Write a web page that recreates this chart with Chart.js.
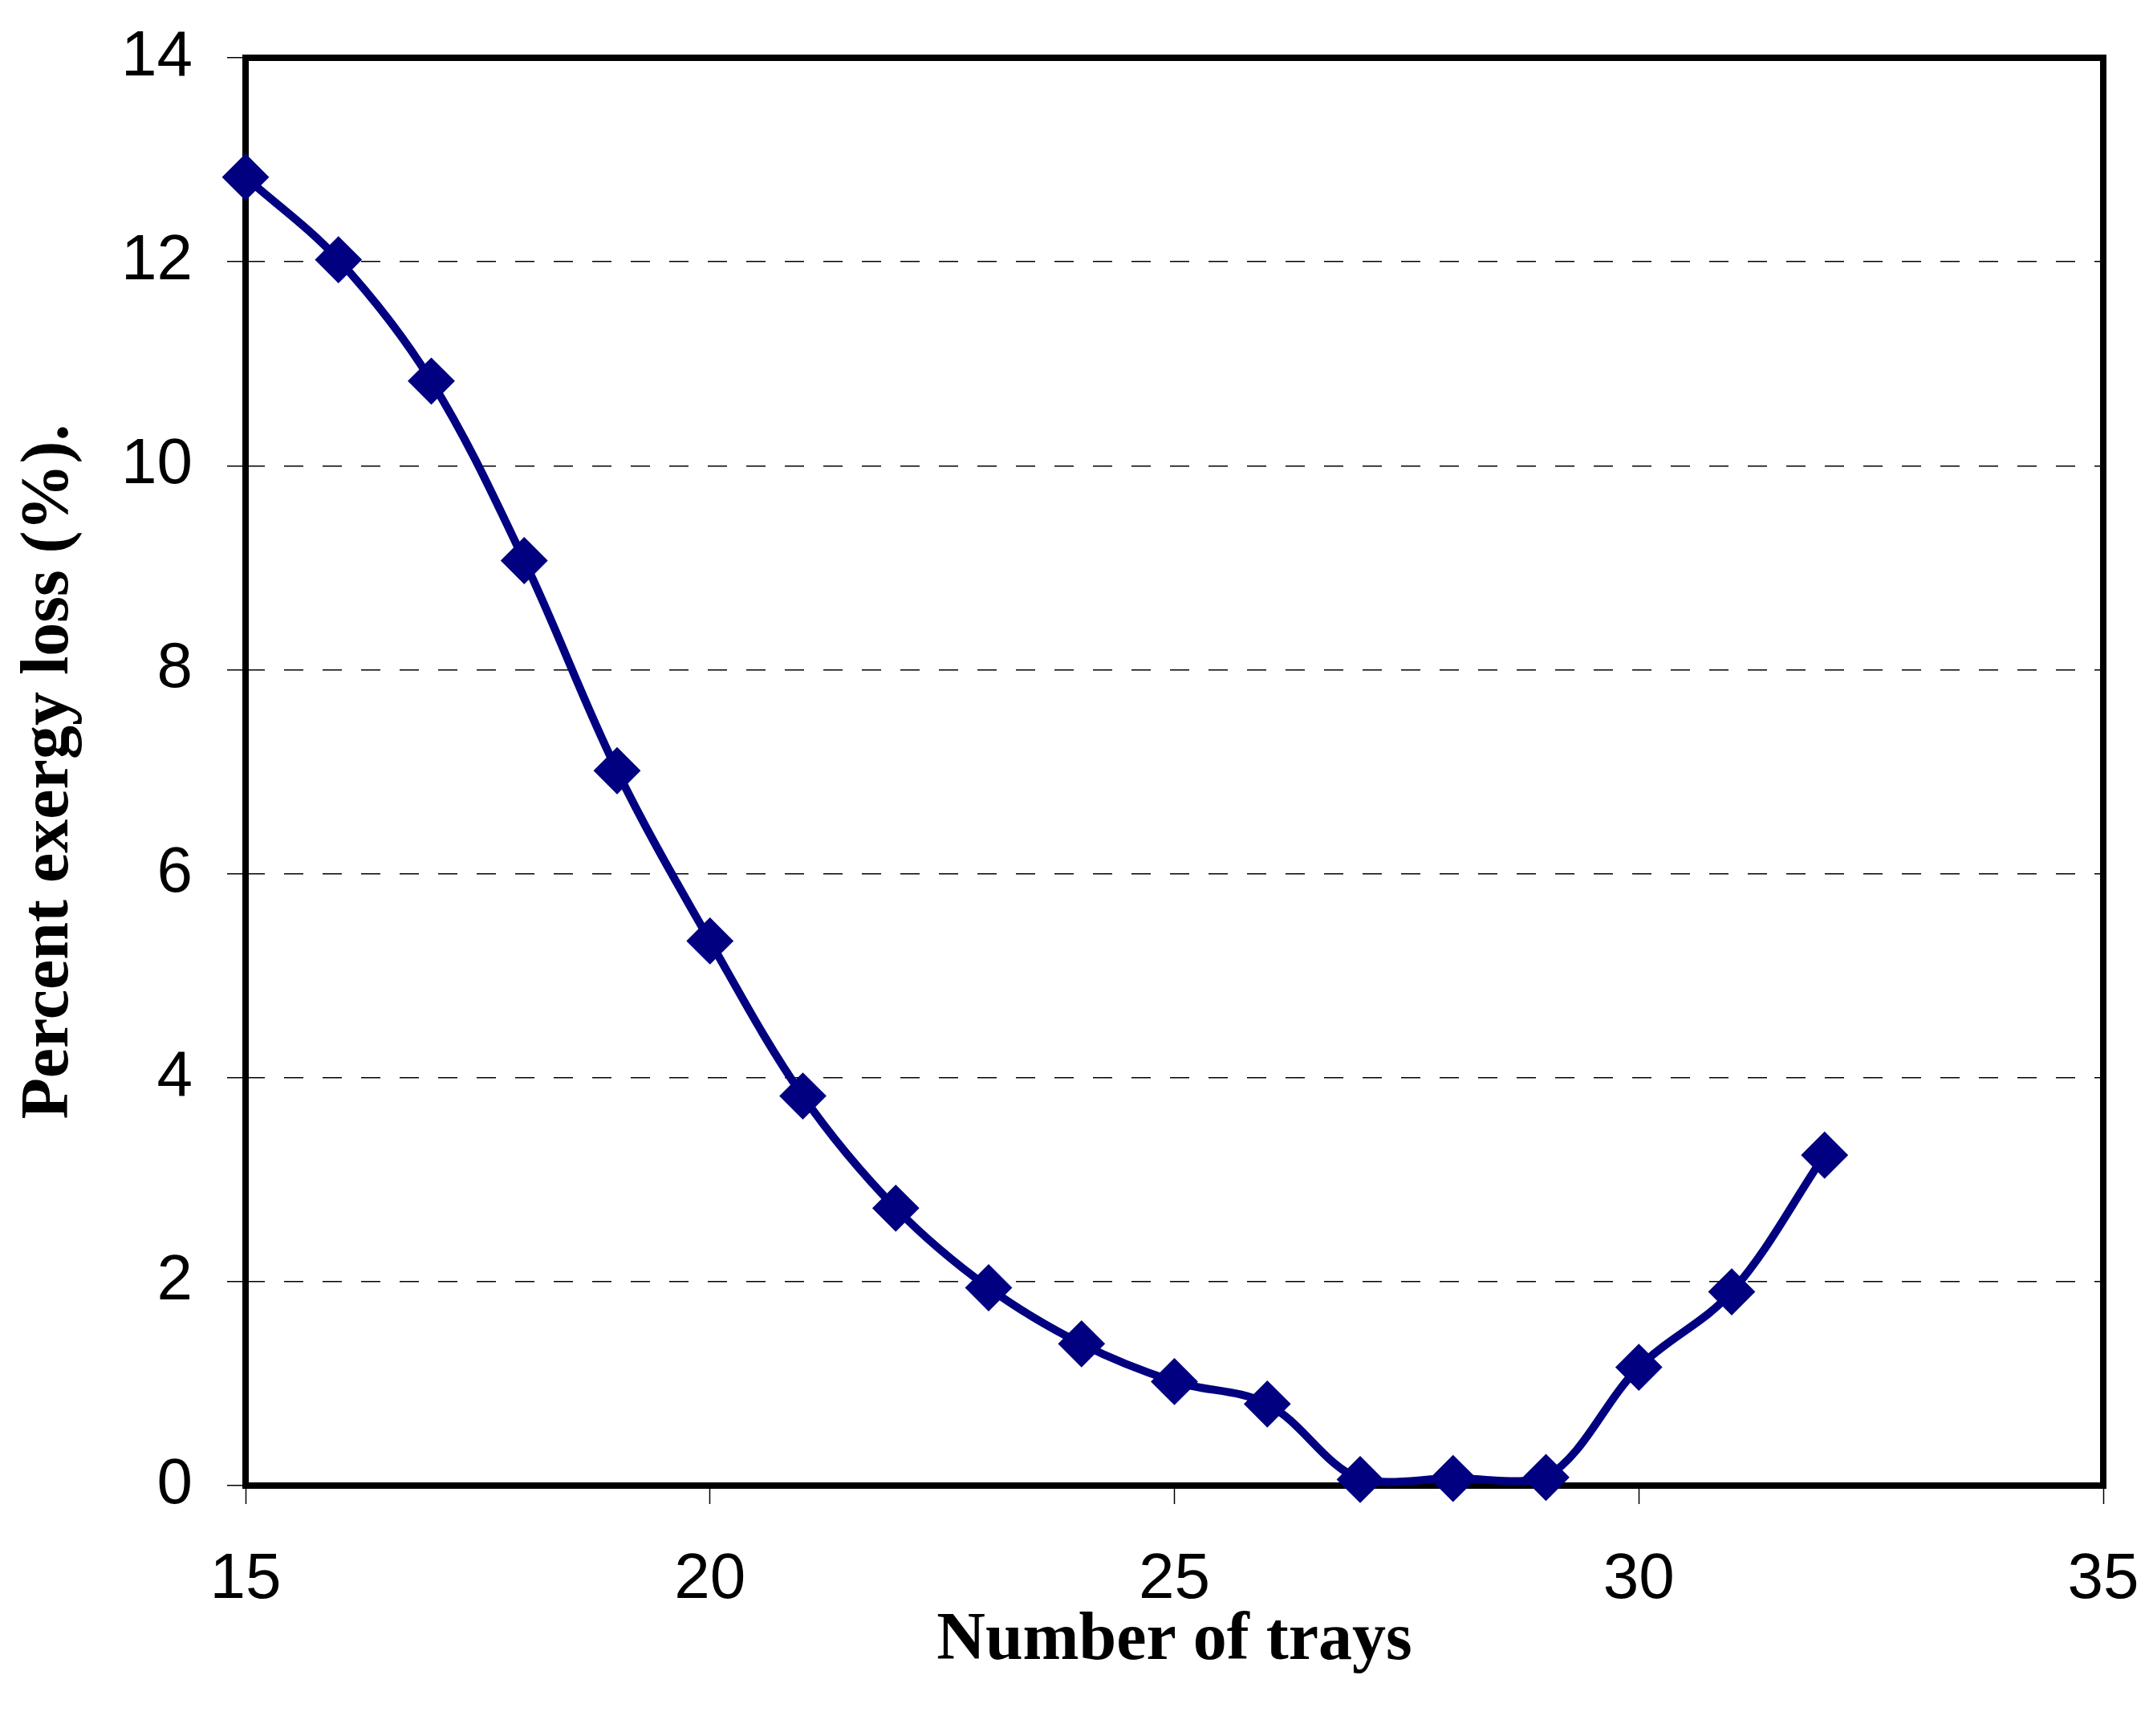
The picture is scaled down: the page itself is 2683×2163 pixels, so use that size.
<!DOCTYPE html>
<html>
<head>
<meta charset="utf-8">
<script src="https://cdn.jsdelivr.net/npm/chart.js@4/dist/chart.umd.min.js"></script>
<style>
  html, body { margin: 0; padding: 0; background: #fff; }
  #wrap { width: 2683px; height: 2163px; }
</style>
</head>
<body>
<div id="wrap"><canvas id="chart"></canvas></div>
<script>
// number of trays vs percent exergy loss
var trays = [15, 16, 17, 18, 19, 20, 21, 22, 23, 24, 25, 26, 27, 28, 29, 30, 31, 32];
var exergyLoss = [12.83, 12.02, 10.83, 9.07, 7.01, 5.34, 3.82, 2.72, 1.94, 1.39, 1.02, 0.80, 0.06, 0.07, 0.08, 1.16, 1.90, 3.24];
var xTicks = [15, 20, 25, 30, 35];
var yTicks = [0, 2, 4, 6, 8, 10, 12, 14];

var navy = "#000080";

var points = trays.map(function(t, i) { return { x: t, y: exergyLoss[i] }; });

// thick box around the plot area, under the line and markers
var frame = {
    id: "frame",
    beforeDatasetsDraw: function(chart) {
        var a = chart.chartArea, ctx = chart.ctx;
        ctx.save();
        ctx.strokeStyle = "#000";
        ctx.lineWidth = 8;
        ctx.strokeRect(a.left, a.top, a.right - a.left, a.bottom - a.top);
        ctx.restore();
    }
};

new Chart(document.getElementById("chart"), {
    type: "line",
    data: {
        datasets: [{
            data: points,
            borderColor: navy,
            backgroundColor: navy,
            borderWidth: 10,
            tension: 0.35,
            pointStyle: "rectRot",
            pointRadius: 28,
            pointBorderWidth: 2,
            pointBorderColor: navy,
            pointBackgroundColor: navy,
            clip: false
        }]
    },
    options: {
        responsive: true,
        maintainAspectRatio: false,
        animation: false,
        layout: { padding: { top: 72, right: 62, left: 12, bottom: 67 } },
        plugins: { legend: { display: false }, tooltip: { enabled: false } },
        scales: {
            x: {
                type: "linear",
                min: 15,
                max: 35,
                afterBuildTicks: function(s) { s.ticks = xTicks.map(function(v) { return { value: v }; }); },
                afterFit: function(s) {
                    s.height = 2163 - 67 - 1851;
                    s.paddingLeft = 0;
                    s.paddingRight = 0;
                },
                border: { display: false },
                grid: { drawOnChartArea: false, drawTicks: true, tickLength: 23, tickColor: "#000", tickWidth: 1.5 },
                ticks: { color: "#000", padding: 47, maxRotation: 0, font: { family: "'Liberation Sans', Arial", size: 80 } },
                title: {
                    display: true,
                    text: "Number of trays",
                    color: "#000",
                    padding: 0,
                    font: { family: "'Liberation Serif', 'Times New Roman'", size: 84, weight: "bold" }
                }
            },
            y: {
                min: 0,
                max: 14,
                afterBuildTicks: function(s) { s.ticks = yTicks.map(function(v) { return { value: v }; }); },
                afterFit: function(s) {
                    s.width = 306 - 12;
                    s.paddingTop = 0;
                    s.paddingBottom = 0;
                },
                border: { display: false, dash: [24, 24] },
                grid: {
                    color: function(c) { return (c.tick && (c.tick.value === 0 || c.tick.value === 14)) ? "rgba(0,0,0,0)" : "#000"; },
                    lineWidth: 1.5,
                    tickLength: 23,
                    tickColor: "#000",
                    tickWidth: 1.5
                },
                ticks: { color: "#000", padding: 43, font: { family: "'Liberation Sans', Arial", size: 80 } },
                title: {
                    display: true,
                    text: "Percent exergy loss (%).",
                    color: "#000",
                    padding: 0,
                    font: { family: "'Liberation Serif', 'Times New Roman'", size: 84, weight: "bold" }
                }
            }
        }
    },
    plugins: [frame]
});
</script>
</body>
</html>
